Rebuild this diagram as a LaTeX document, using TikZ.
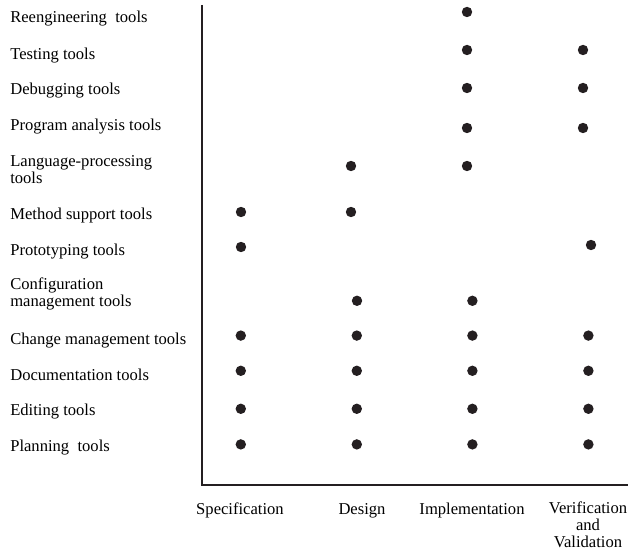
\documentclass[tikz,border=0pt]{standalone}
\usepackage{fontspec}
\setmainfont{Liberation Serif}
\usepackage{tikz}
\usetikzlibrary{positioning}
\definecolor{ink}{rgb}{0.14, 0.12, 0.13}
\tikzset{
    tool/.style = {
        anchor = base west, inner sep = 0pt,
        align = left,
        font = \fontsize{11.8}{12.1}\selectfont
    },
    phase/.style = {
        anchor = base, inner sep = 0pt,
        align = center,
        font = \fontsize{11.8}{12.1}\selectfont
    },
    dot/.style = {circle, fill = ink, inner sep = 0pt, minimum size = 0.26cm},
    axis/.style = {draw = ink, line width = 0.9pt}
}
\begin{document}
\begin{tikzpicture}

    \useasboundingbox (0,0) rectangle (15.7,-13.75);

    % Axes
    \coordinate (top) at (5.05,-0.125);
    \coordinate (origin) at (5.05,-12.125);
    \coordinate (right) at (15.7,-12.125);
    \path[axis] (top) -- (origin) -- (right);

    % Tool labels (two-line labels sit on their last baseline)
    \node[tool] (reeng) at (0.25,-0.575) {Reengineering\ \ tools};
    \node[tool] (test) at (0.25,-1.5) {Testing tools};
    \node[tool] (debug) at (0.25,-2.375) {Debugging tools};
    \node[tool] (analysis) at (0.25,-3.275) {Program analysis tools};
    \node[tool] (lang) at (0.25,-4.6) {Language-processing\\tools};
    \node[tool] (method) at (0.25,-5.5) {Method support tools};
    \node[tool] (proto) at (0.25,-6.4) {Prototyping tools};
    \node[tool] (config) at (0.25,-7.675) {Configuration\\management tools};
    \node[tool] (change) at (0.25,-8.625) {Change management tools};
    \node[tool] (doc) at (0.25,-9.525) {Documentation tools};
    \node[tool] (edit) at (0.25,-10.4) {Editing tools};
    \node[tool] (plan) at (0.25,-11.3) {Planning\ \ tools};

    % Phase labels
    \node[phase] (spec) at (6.0,-12.85) {Specification};
    \node[phase] (design) at (9.05,-12.85) {Design};
    \node[phase] (impl) at (11.8,-12.85) {Implementation};
    \node[phase] (vv) at (14.7,-13.7) {Verification\\and\\Validation};

    % Reengineering, testing, debugging, analysis
    \node[dot] (reeng-impl) at (11.675,-0.3) {};
    \node[dot] (test-impl) at (11.675,-1.25) {};
    \node[dot] (test-vv) at (14.575,-1.25) {};
    \node[dot] (debug-impl) at (11.675,-2.2) {};
    \node[dot] (debug-vv) at (14.575,-2.2) {};
    \node[dot] (analysis-impl) at (11.675,-3.2) {};
    \node[dot] (analysis-vv) at (14.575,-3.2) {};

    % Language processing, method support, prototyping
    \node[dot] (lang-design) at (8.775,-4.15) {};
    \node[dot] (lang-impl) at (11.675,-4.15) {};
    \node[dot] (method-spec) at (6.025,-5.3) {};
    \node[dot] (method-design) at (8.775,-5.3) {};
    \node[dot] (proto-spec) at (6.025,-6.175) {};
    \node[dot] (proto-vv) at (14.775,-6.125) {};

    % Configuration management
    \node[dot] (config-design) at (8.925,-7.52) {};
    \node[dot] (config-impl) at (11.81,-7.52) {};

    % Change management
    \node[dot] (change-spec) at (6.02,-8.39) {};
    \node[dot] (change-design) at (8.92,-8.39) {};
    \node[dot] (change-impl) at (11.81,-8.39) {};
    \node[dot] (change-vv) at (14.71,-8.39) {};

    % Documentation
    \node[dot] (doc-spec) at (6.02,-9.27) {};
    \node[dot] (doc-design) at (8.92,-9.27) {};
    \node[dot] (doc-impl) at (11.81,-9.27) {};
    \node[dot] (doc-vv) at (14.71,-9.27) {};

    % Editing
    \node[dot] (edit-spec) at (6.02,-10.22) {};
    \node[dot] (edit-design) at (8.92,-10.22) {};
    \node[dot] (edit-impl) at (11.81,-10.22) {};
    \node[dot] (edit-vv) at (14.71,-10.22) {};

    % Planning
    \node[dot] (plan-spec) at (6.02,-11.11) {};
    \node[dot] (plan-design) at (8.92,-11.11) {};
    \node[dot] (plan-impl) at (11.81,-11.11) {};
    \node[dot] (plan-vv) at (14.71,-11.11) {};

\end{tikzpicture}
\end{document}
